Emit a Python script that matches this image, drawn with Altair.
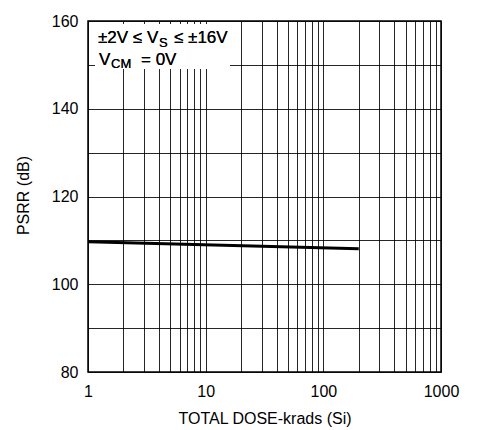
import altair as alt
import pandas as pd

# data
dose = [1, 200]
psrr = [109.7, 108.1]

x_grid = [1, 2, 3, 4, 5, 6, 7, 8, 9,
          10, 20, 30, 40, 50, 60, 70, 80, 90,
          100, 200, 300, 400, 500, 600, 700, 800, 900, 1000]
y_grid = [80, 90, 100, 110, 120, 130, 140, 150, 160]
x_labels = [1, 10, 100, 1000]
y_labels = [80, 100, 120, 140, 160]

df = pd.DataFrame({"dose": dose, "psrr": psrr})

FONT = "Liberation Sans"
W, H = 353, 351

x_scale = alt.Scale(type="log", domain=[1, 1000], nice=False)
y_scale = alt.Scale(domain=[80, 160], nice=False, zero=False)

xlab = "indexof([" + ",".join(str(v) for v in x_labels) + "], datum.value) >= 0 ? format(datum.value, 'd') : ''"
ylab = "indexof([" + ",".join(str(v) for v in y_labels) + "], datum.value) >= 0 ? format(datum.value, 'd') : ''"

line = alt.Chart(df).mark_line(color="black", strokeWidth=3).encode(
    x=alt.X("dose:Q", scale=x_scale,
            axis=alt.Axis(values=x_grid, labelExpr=xlab, title="TOTAL DOSE-krads (Si)",
                          grid=True, gridColor="black", gridOpacity=0.85, gridWidth=1,
                          ticks=False, domain=False, labelFont=FONT, labelFontSize=16,
                          labelColor="black", labelPadding=11, labelFlush=False,
                          labelOverlap=False,
                          titleFont=FONT, titleFontSize=16, titleFontWeight="normal",
                          titleColor="black", titlePadding=11)),
    y=alt.Y("psrr:Q", scale=y_scale,
            axis=alt.Axis(values=y_grid, labelExpr=ylab, title="PSRR (dB)",
                          grid=True, gridColor="black", gridOpacity=0.85, gridWidth=1,
                          ticks=False, domain=False, labelFont=FONT, labelFontSize=16,
                          labelColor="black", labelPadding=10, labelOverlap=False,
                          titleFont=FONT, titleFontSize=16, titleFontWeight="normal",
                          titleColor="black", titleX=-57, titleY=174)),
)

box = alt.Chart(df).mark_rect(color="white").encode(
    x=alt.value(7), x2=alt.value(142), y=alt.value(3), y2=alt.value(48)
)

def txt(s, x, y, size=17):
    return alt.Chart(df).mark_text(text=s, align="left", baseline="alphabetic",
                                   font=FONT, fontSize=size, color="black").encode(
        x=alt.value(x), y=alt.value(y))

texts = [
    txt("±2V ≤ V", 10, 22),
    txt("S", 71, 26, 13),
    txt("≤ ±16V", 86, 22),
    txt("V", 11, 44),
    txt("CM", 23, 47, 13),
    txt("= 0V", 53, 44),
]

chart = alt.layer(line, box, *texts).properties(
    width=W, height=H,
    autosize=alt.AutoSizeParams(type="none"),
    padding={"left": 80, "top": 13, "right": 28, "bottom": 56},
).configure_view(stroke="black", strokeWidth=1.5)

chart.save("out.html", embed_options={"renderer": "svg", "actions": False})
